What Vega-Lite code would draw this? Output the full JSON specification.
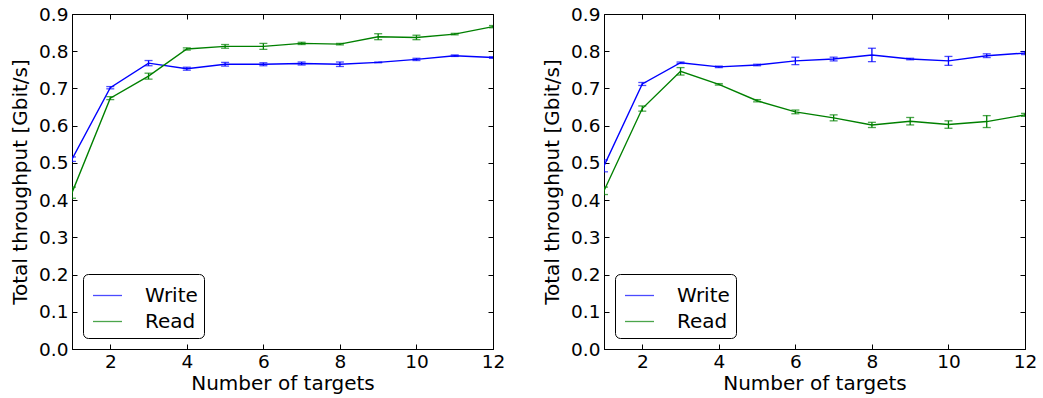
{
  "$schema": "https://vega.github.io/schema/vega-lite/v6.json",
  "padding": {"left": 10, "top": 4, "right": 5, "bottom": 5},
  "background": "white",
  "datasets": {
    "d": [
      {"panel": "A", "n": 1, "series": "Write", "v": 0.51, "e": 0.006},
      {"panel": "A", "n": 2, "series": "Write", "v": 0.702, "e": 0.003},
      {"panel": "A", "n": 3, "series": "Write", "v": 0.768, "e": 0.007},
      {"panel": "A", "n": 4, "series": "Write", "v": 0.753, "e": 0.004},
      {"panel": "A", "n": 5, "series": "Write", "v": 0.765, "e": 0.005},
      {"panel": "A", "n": 6, "series": "Write", "v": 0.765, "e": 0.004},
      {"panel": "A", "n": 7, "series": "Write", "v": 0.767, "e": 0.004},
      {"panel": "A", "n": 8, "series": "Write", "v": 0.765, "e": 0.006},
      {"panel": "A", "n": 9, "series": "Write", "v": 0.770, "e": 0.001},
      {"panel": "A", "n": 10, "series": "Write", "v": 0.778, "e": 0.003},
      {"panel": "A", "n": 11, "series": "Write", "v": 0.788, "e": 0.002},
      {"panel": "A", "n": 12, "series": "Write", "v": 0.783, "e": 0.002},
      {"panel": "A", "n": 1, "series": "Read", "v": 0.42, "e": 0.015},
      {"panel": "A", "n": 2, "series": "Read", "v": 0.674, "e": 0.004},
      {"panel": "A", "n": 3, "series": "Read", "v": 0.733, "e": 0.008},
      {"panel": "A", "n": 4, "series": "Read", "v": 0.806, "e": 0.003},
      {"panel": "A", "n": 5, "series": "Read", "v": 0.813, "e": 0.005},
      {"panel": "A", "n": 6, "series": "Read", "v": 0.813, "e": 0.008},
      {"panel": "A", "n": 7, "series": "Read", "v": 0.821, "e": 0.003},
      {"panel": "A", "n": 8, "series": "Read", "v": 0.819, "e": 0.002},
      {"panel": "A", "n": 9, "series": "Read", "v": 0.839, "e": 0.008},
      {"panel": "A", "n": 10, "series": "Read", "v": 0.837, "e": 0.006},
      {"panel": "A", "n": 11, "series": "Read", "v": 0.846, "e": 0.002},
      {"panel": "A", "n": 12, "series": "Read", "v": 0.866, "e": 0.003},
      {"panel": "B", "n": 1, "series": "Write", "v": 0.492, "e": 0.016},
      {"panel": "B", "n": 2, "series": "Write", "v": 0.712, "e": 0.004},
      {"panel": "B", "n": 3, "series": "Write", "v": 0.769, "e": 0.002},
      {"panel": "B", "n": 4, "series": "Write", "v": 0.758, "e": 0.002},
      {"panel": "B", "n": 5, "series": "Write", "v": 0.763, "e": 0.002},
      {"panel": "B", "n": 6, "series": "Write", "v": 0.774, "e": 0.01},
      {"panel": "B", "n": 7, "series": "Write", "v": 0.779, "e": 0.005},
      {"panel": "B", "n": 8, "series": "Write", "v": 0.790, "e": 0.018},
      {"panel": "B", "n": 9, "series": "Write", "v": 0.779, "e": 0.002},
      {"panel": "B", "n": 10, "series": "Write", "v": 0.774, "e": 0.012},
      {"panel": "B", "n": 11, "series": "Write", "v": 0.788, "e": 0.005},
      {"panel": "B", "n": 12, "series": "Write", "v": 0.795, "e": 0.004},
      {"panel": "B", "n": 1, "series": "Read", "v": 0.425, "e": 0.01},
      {"panel": "B", "n": 2, "series": "Read", "v": 0.646, "e": 0.007},
      {"panel": "B", "n": 3, "series": "Read", "v": 0.746, "e": 0.01},
      {"panel": "B", "n": 4, "series": "Read", "v": 0.711, "e": 0.002},
      {"panel": "B", "n": 5, "series": "Read", "v": 0.667, "e": 0.003},
      {"panel": "B", "n": 6, "series": "Read", "v": 0.637, "e": 0.005},
      {"panel": "B", "n": 7, "series": "Read", "v": 0.621, "e": 0.008},
      {"panel": "B", "n": 8, "series": "Read", "v": 0.602, "e": 0.007},
      {"panel": "B", "n": 9, "series": "Read", "v": 0.612, "e": 0.01},
      {"panel": "B", "n": 10, "series": "Read", "v": 0.603, "e": 0.01},
      {"panel": "B", "n": 11, "series": "Read", "v": 0.611, "e": 0.016},
      {"panel": "B", "n": 12, "series": "Read", "v": 0.629, "e": 0.004}
    ]
  },
  "config": {
    "font": "DejaVu Sans",
    "view": {"stroke": "black", "strokeWidth": 1},
    "axis": {
      "domainColor": "black", "tickColor": "black", "tickSize": -5, "tickWidth": 1,
      "labelFont": "DejaVu Sans", "titleFont": "DejaVu Sans",
      "labelFontSize": 18.5, "titleFontSize": 20, "titleFontWeight": "normal",
      "labelColor": "black", "titleColor": "black", "grid": false,
      "labelFlush": false, "labelOverlap": false
    },
    "axisX": {"labelPadding": 8, "titlePadding": 3},
    "axisY": {"labelPadding": 9, "titlePadding": 8},
    "legend": {
      "orient": "bottom-left", "offset": 11, "strokeColor": "black", "strokeWidth": 1,
      "cornerRadius": 5, "padding": 6, "fillColor": "white",
      "labelFont": "DejaVu Sans", "labelFontSize": 20, "labelColor": "black",
      "symbolType": "stroke", "symbolSize": 841, "symbolStrokeWidth": 1.3,
      "symbolOffset": 3, "labelOffset": 22, "rowPadding": -3
    }
  },
  "spacing": 36,
  "resolve": {"legend": {"color": "independent"}},
  "hconcat": [
    {
      "width": 421, "height": 335,
      "data": {"name": "d"},
      "transform": [{"filter": "datum.panel == 'A'"}],
      "layer": [
        {
          "mark": {"type": "line", "strokeWidth": 1.4, "clip": true},
          "encoding": {
            "x": {"field": "n", "type": "quantitative", "scale": {"domain": [1, 12], "nice": false, "zero": false},
                  "axis": {"values": [2, 4, 6, 8, 10, 12], "title": "Number of targets"}},
            "y": {"field": "v", "type": "quantitative", "scale": {"domain": [0, 0.9], "nice": false},
                  "axis": {"values": [0, 0.1, 0.2, 0.3, 0.4, 0.5, 0.6, 0.7, 0.8, 0.9], "format": ".1f", "title": "Total throughput [Gbit/s]"}},
            "color": {"field": "series", "type": "nominal", "scale": {"domain": ["Write", "Read"], "range": ["#0000ff", "#008000"]}, "legend": {"title": null}}
          }
        },
        {
          "mark": {"type": "errorbar", "ticks": {"size": 8, "thickness": 1.3}, "thickness": 1.3, "clip": true},
          "encoding": {
            "x": {"field": "n", "type": "quantitative", "scale": {"domain": [1, 12], "nice": false, "zero": false},
                  "axis": {"orient": "top", "values": [2, 4, 6, 8, 10, 12], "labels": false, "domain": false, "title": null}},
            "y": {"field": "v", "type": "quantitative", "scale": {"domain": [0, 0.9], "nice": false},
                  "axis": {"orient": "right", "values": [0, 0.1, 0.2, 0.3, 0.4, 0.5, 0.6, 0.7, 0.8, 0.9], "labels": false, "domain": false, "title": null}},
            "yError": {"field": "e"},
            "color": {"field": "series", "type": "nominal"}
          }
        }
      ],
      "resolve": {"axis": {"x": "independent", "y": "independent"}}
    },
    {
      "width": 421, "height": 335,
      "data": {"name": "d"},
      "transform": [{"filter": "datum.panel == 'B'"}],
      "layer": [
        {
          "mark": {"type": "line", "strokeWidth": 1.4, "clip": true},
          "encoding": {
            "x": {"field": "n", "type": "quantitative", "scale": {"domain": [1, 12], "nice": false, "zero": false},
                  "axis": {"values": [2, 4, 6, 8, 10, 12], "title": "Number of targets"}},
            "y": {"field": "v", "type": "quantitative", "scale": {"domain": [0, 0.9], "nice": false},
                  "axis": {"values": [0, 0.1, 0.2, 0.3, 0.4, 0.5, 0.6, 0.7, 0.8, 0.9], "format": ".1f", "title": "Total throughput [Gbit/s]"}},
            "color": {"field": "series", "type": "nominal", "scale": {"domain": ["Write", "Read"], "range": ["#0000ff", "#008000"]}, "legend": {"title": null}}
          }
        },
        {
          "mark": {"type": "errorbar", "ticks": {"size": 8, "thickness": 1.3}, "thickness": 1.3, "clip": true},
          "encoding": {
            "x": {"field": "n", "type": "quantitative", "scale": {"domain": [1, 12], "nice": false, "zero": false},
                  "axis": {"orient": "top", "values": [2, 4, 6, 8, 10, 12], "labels": false, "domain": false, "title": null}},
            "y": {"field": "v", "type": "quantitative", "scale": {"domain": [0, 0.9], "nice": false},
                  "axis": {"orient": "right", "values": [0, 0.1, 0.2, 0.3, 0.4, 0.5, 0.6, 0.7, 0.8, 0.9], "labels": false, "domain": false, "title": null}},
            "yError": {"field": "e"},
            "color": {"field": "series", "type": "nominal"}
          }
        }
      ],
      "resolve": {"axis": {"x": "independent", "y": "independent"}}
    }
  ]
}
